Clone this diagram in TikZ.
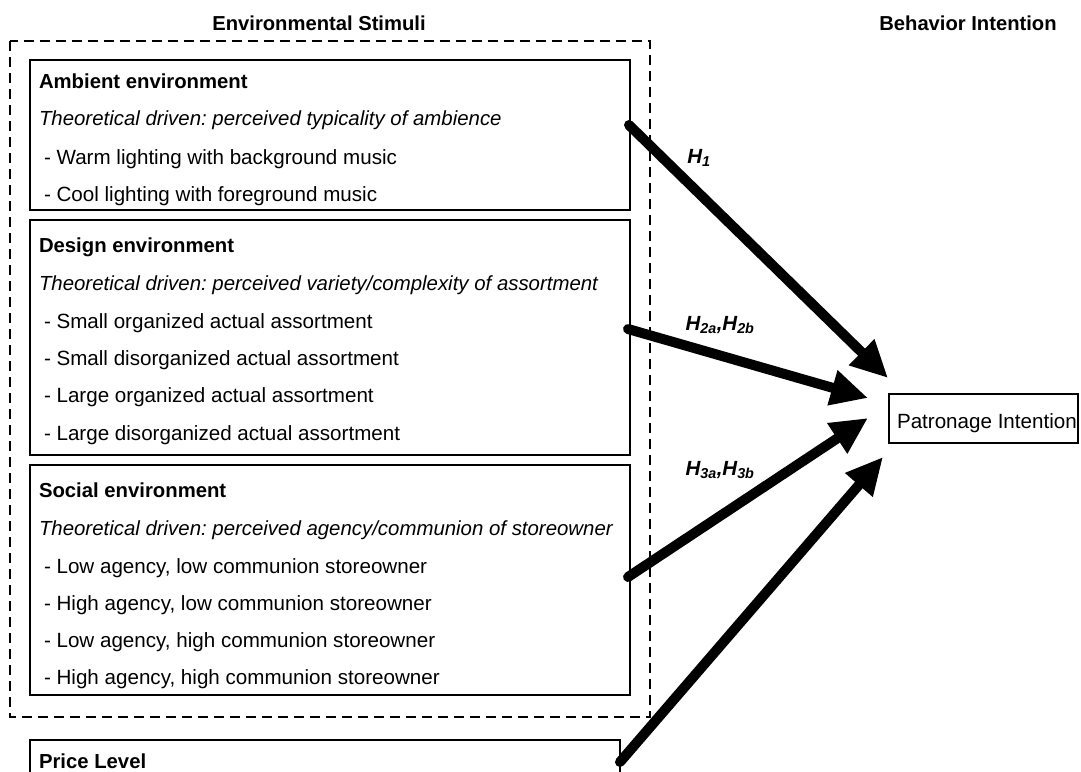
\documentclass[tikz,border=0pt]{standalone}
\usepackage{fontspec}
\setmainfont{Liberation Sans}
\usetikzlibrary{arrows.meta}
\frenchspacing
\begin{document}
\begin{tikzpicture}[x=1pt,y=-1pt,
  every node/.style={inner sep=0pt,outer sep=0pt,font=\fontsize{20.6}{24}\selectfont},
  box/.style={draw=black,line width=1.2pt},
  txt/.style={anchor=base west},
  head/.style={anchor=base west,font=\fontsize{20.3}{24}\selectfont\bfseries},
  ital/.style={anchor=base west,font=\fontsize{20.4}{24}\selectfont\itshape},
  title/.style={anchor=base,font=\fontsize{20.2}{24}\selectfont\bfseries},
  hyp/.style={font=\fontsize{20.5}{24}\selectfont\bfseries\itshape},
  bigarrow/.style={line width=10pt,line cap=round,-{Triangle[length=37pt,width=34pt]}}
]
\useasboundingbox (0,0) rectangle (1081,771);
% titles
\node[title] (tes) at (319,30) {Environmental Stimuli};
\node[title] (tbi) at (968,30) {Behavior Intention};
% dashed group
\draw[line width=1.2pt,dash pattern=on 10pt off 6pt] (10,41) rectangle (650,717);
% ambient
\node[box,minimum width=600pt,minimum height=150pt,anchor=north west] (amb) at (30,60) {};
\node[head] (ambh) at (39,88) {Ambient environment};
\node[ital] (ambi) at (39,125) {Theoretical driven: perceived typicality of ambience};
\node[txt] (amb1) at (44,164) {- Warm lighting with background music};
\node[txt] (amb2) at (44,201) {- Cool lighting with foreground music};
% design
\node[box,minimum width=600pt,minimum height=235pt,anchor=north west] (des) at (30,220) {};
\node[head] (desh) at (39,252) {Design environment};
\node[ital] (desi) at (39,290) {Theoretical driven: perceived variety/complexity of assortment};
\node[txt] (des1) at (44,328) {- Small organized actual assortment};
\node[txt] (des2) at (44,365) {- Small disorganized actual assortment};
\node[txt] (des3) at (44,402) {- Large organized actual assortment};
\node[txt] (des4) at (44,440) {- Large disorganized actual assortment};
% social
\node[box,minimum width=600pt,minimum height=230pt,anchor=north west] (soc) at (30,465) {};
\node[head] (soch) at (39,497) {Social environment};
\node[ital] (soci) at (39,535) {Theoretical driven: perceived agency/communion of storeowner};
\node[txt] (soc1) at (44,573) {- Low agency, low communion storeowner};
\node[txt] (soc2) at (44,610) {- High agency, low communion storeowner};
\node[txt] (soc3) at (44,647) {- Low agency, high communion storeowner};
\node[txt] (soc4) at (44,684) {- High agency, high communion storeowner};
% price
\node[box,minimum width=590pt,minimum height=60pt,anchor=north west] (pri) at (30,740) {};
\node[head] (prih) at (39,768) {Price Level};
% patronage
\node[box,minimum width=189pt,minimum height=49pt,anchor=north west] (pat) at (889,394) {};
\node[txt] (patt) at (897,428) {Patronage Intention};
% arrow ends
\coordinate (s1) at (629,125);
\coordinate (s2) at (628,329);
\coordinate (s3) at (628,577);
\coordinate (s4) at (620,762);
\coordinate (t1) at (888,378);
\coordinate (t2) at (868,398);
\coordinate (t3) at (868,418);
\coordinate (t4) at (883,457);
\draw[bigarrow] (s1) -- (t1);
\draw[bigarrow] (s2) -- (t2);
\draw[bigarrow] (s3) -- (t3);
\draw[bigarrow] (s4) -- (t4);
% labels
\node[hyp] (h1) at (699,158) {H\textsubscript{1}};
\node[hyp] (h2) at (720,325) {H\textsubscript{2a},H\textsubscript{2b}};
\node[hyp] (h3) at (720,470) {H\textsubscript{3a},H\textsubscript{3b}};
\end{tikzpicture}
\end{document}
